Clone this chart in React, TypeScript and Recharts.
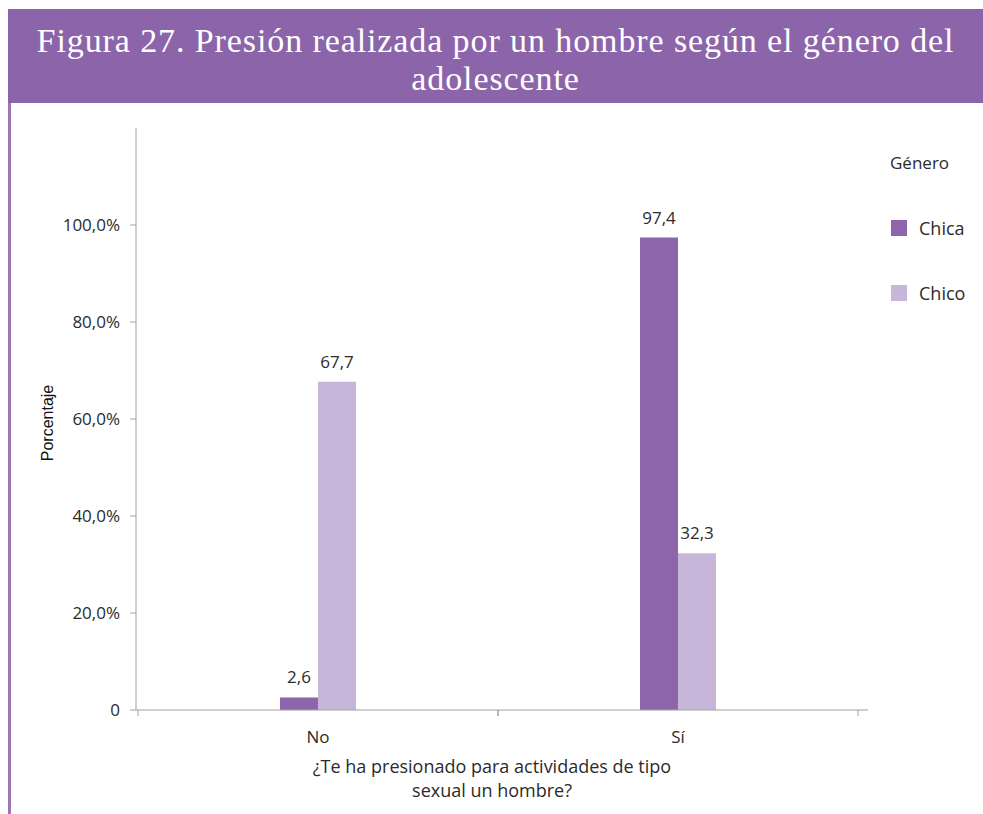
import React from 'react';
import { BarChart, Bar, XAxis, YAxis, LabelList, Label } from 'recharts';

const categories = ['No', 'Sí'];
const chica = [2.6, 97.4];
const chico = [67.7, 32.3];
const yTicks = [0, 20, 40, 60, 80, 100];

const CHICA_COLOR = '#8d65aa';
const CHICO_COLOR = '#c7b6da';
const TEXT = '#2b2b2b';
const AXIS = '#a0a0a0';
const FONT = '"Open Sans", "Noto Sans", sans-serif';

const series = [
    { key: 'Chica', color: CHICA_COLOR },
    { key: 'Chico', color: CHICO_COLOR },
];

const data = categories.map((c, i) => ({ name: c, Chica: chica[i], Chico: chico[i] }));

// plot geometry
const W = 983;
const H = 814;
const PLOT_LEFT = 136;
const PLOT_RIGHT = 868;
const PLOT_TOP = 128;
const PLOT_BOTTOM = 710;
const PAD_L = 2;
const PAD_R = 10;
const HALF_BAND = (PLOT_RIGHT - PLOT_LEFT - PAD_L - PAD_R) / categories.length / 2;

const fmtPct = (v: number) => (v === 0 ? '0' : v.toFixed(1).replace('.', ',') + '%');
const fmtVal = (v: any) => Number(v).toFixed(1).replace('.', ',');

function CategoryTick(props: any) {
    const { x, payload } = props;
    return (
        <g>
            <line x1={x - HALF_BAND} x2={x - HALF_BAND} y1={PLOT_BOTTOM} y2={PLOT_BOTTOM + 6} stroke={AXIS} />
            <line x1={x + HALF_BAND} x2={x + HALF_BAND} y1={PLOT_BOTTOM} y2={PLOT_BOTTOM + 6} stroke={AXIS} />
            <text x={x} y={PLOT_BOTTOM + 33} textAnchor="middle" fill={TEXT} fontSize={17} fontFamily={FONT}>
                {payload.value}
            </text>
        </g>
    );
}

export default function App() {
    return (
        <div style={{ position: 'absolute', left: 0, top: 0, width: W, height: H, background: '#fff', overflow: 'hidden' }}>
            {/* title banner */}
            <div style={{
                position: 'absolute', left: 8, top: 9, width: W - 8, height: 94, background: '#8c64a9',
                color: '#fff', fontFamily: '"Liberation Serif", "DejaVu Serif", serif', fontSize: 34,
                textAlign: 'center', lineHeight: '38px', paddingTop: 13, boxSizing: 'border-box', letterSpacing: 0.9
            }}>
                Figura 27. Presión realizada por un hombre según el género del<br />adolescente
            </div>
            {/* left rule */}
            <div style={{ position: 'absolute', left: 8, top: 103, width: 3, height: H - 103, background: '#9a76b6' }}></div>

            {/* legend */}
            <div style={{ position: 'absolute', left: 890, top: 148, fontFamily: FONT, color: TEXT }}>
                <div style={{ fontSize: 17, height: 30, lineHeight: '30px' }}>Género</div>
                {series.map(s => (
                    <div key={s.key} style={{ display: 'flex', alignItems: 'center', marginTop: 35, height: 30 }}>
                        <div style={{ width: 16, height: 16, background: s.color, marginRight: 12, marginLeft: 1 }}></div>
                        <span style={{ fontSize: 18 }}>{s.key}</span>
                    </div>
                ))}
            </div>

            <div style={{ position: 'absolute', left: 0, top: 0 }}>
                <BarChart
                    width={W}
                    height={H}
                    data={data}
                    margin={{ top: PLOT_TOP, right: W - PLOT_RIGHT, bottom: 0, left: 0 }}
                    barGap={0}
                    barSize={38}
                >
                    <XAxis
                        dataKey="name"
                        height={H - PLOT_BOTTOM}
                        padding={{ left: PAD_L, right: PAD_R }}
                        axisLine={{ stroke: AXIS }}
                        tickLine={false}
                        tick={<CategoryTick />}
                        interval={0}
                    >
                        <Label
                            content={() => (
                                <text textAnchor="middle" fill={TEXT} fontSize={18} fontFamily={FONT}>
                                    <tspan x={(PLOT_LEFT + PLOT_RIGHT) / 2 - 10} y={773}>¿Te ha presionado para actividades de tipo</tspan>
                                    <tspan x={(PLOT_LEFT + PLOT_RIGHT) / 2 - 10} y={797}>sexual un hombre?</tspan>
                                </text>
                            )}
                        />
                    </XAxis>
                    <YAxis
                        width={PLOT_LEFT}
                        domain={[0, 120]}
                        ticks={yTicks}
                        tickFormatter={fmtPct}
                        axisLine={{ stroke: AXIS }}
                        tickLine={{ stroke: AXIS }}
                        tickSize={6}
                        tickMargin={10}
                        tick={{ fill: TEXT, fontSize: 17, fontFamily: FONT }}
                    >
                        <Label
                            content={(p: any) => {
                                const vb = p.viewBox || {};
                                const cx = 47;
                                const cy = (vb.y || PLOT_TOP) + (vb.height || 582) / 2 + 4;
                                return (
                                    <text x={cx} y={cy} transform={`rotate(-90, ${cx}, ${cy})`} textAnchor="middle" dominantBaseline="central"
                                        fill="#111" fontSize={16} fontFamily='"Liberation Sans", Arial, sans-serif'>
                                        Porcentaje
                                    </text>
                                );
                            }}
                        />
                    </YAxis>
                    {series.map(s => (
                        <Bar key={s.key} dataKey={s.key} fill={s.color} isAnimationActive={false}>
                            <LabelList dataKey={s.key} position="top" offset={14} formatter={fmtVal} fill={TEXT} fontSize={17} fontFamily={FONT} />
                        </Bar>
                    ))}
                </BarChart>
            </div>
        </div>
    );
}
